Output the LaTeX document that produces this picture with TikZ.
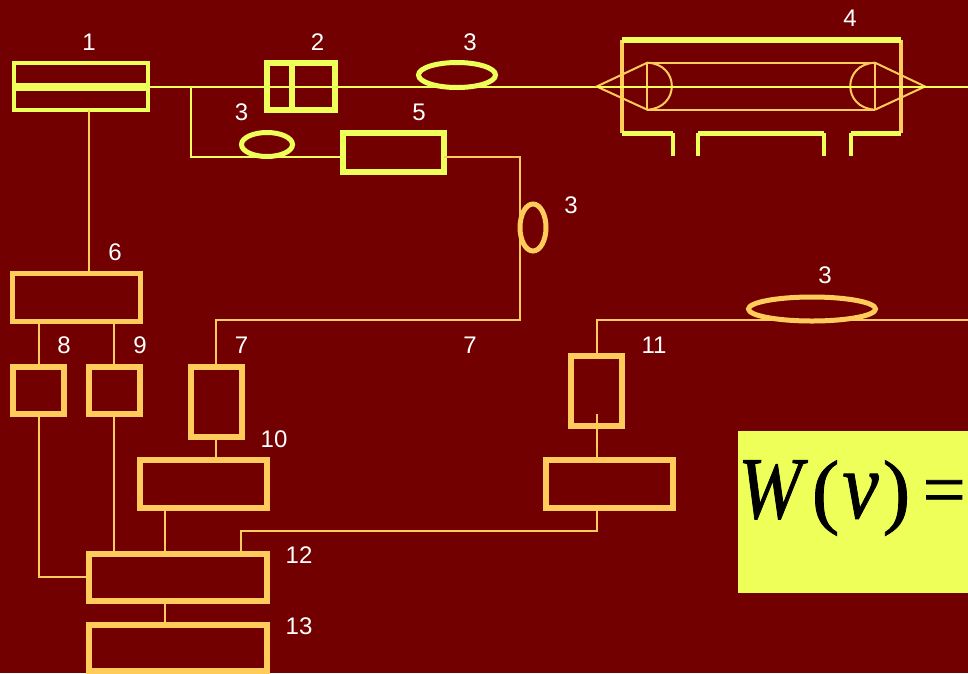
\documentclass[tikz,border=0pt]{standalone}
\usepackage{graphicx}
\usepackage{fontspec}
\setmainfont{Liberation Sans}
\newfontfamily\timesf[FakeBold=1]{Liberation Serif}
\usetikzlibrary{shapes.geometric}
\definecolor{bgred}{HTML}{720000}
\definecolor{ylw}{HTML}{EEFF5A}
\definecolor{org}{HTML}{FFCC5C}
\tikzset{
  x=1pt,y=-1pt,
  wire/.style={line width=2pt},
  ywire/.style={wire,draw=ylw},
  owire/.style={wire,draw=org},
  blockbase/.style={rectangle,inner sep=0pt,outer sep=0pt,fill=none},
  yblock/.style={blockbase,draw=ylw,line width=6pt},
  oblock/.style={blockbase,draw=org,line width=6pt},
  coil/.style={ellipse,inner sep=0pt,outer sep=0pt,line width=5pt},
  num/.style={text=white,font=\fontsize{24}{24}\selectfont,inner sep=0pt},
  thin4/.style={draw=org,line width=2pt},
  wall/.style={draw=org,line width=4pt},
  yrim/.style={draw=ylw,line width=5.5pt},
  ystub/.style={draw=ylw,line width=4pt}
}
\begin{document}
\begin{tikzpicture}
\useasboundingbox (0,0) rectangle (968,673);
\fill[bgred] (0,0) rectangle (968,673);
\clip (0,0) rectangle (968,673);

% guide coordinates
\coordinate (x38) at (38.5,0);
\coordinate (x89) at (89,0);
\coordinate (x114) at (114,0);
\coordinate (x165) at (165,0);
\coordinate (x190) at (190.5,0);
\coordinate (x216) at (216,0);
\coordinate (x241) at (241,0);
\coordinate (x520) at (520,0);
\coordinate (x596) at (596.5,0);
\coordinate (y86) at (0,86.5);
\coordinate (y156) at (0,156.5);
\coordinate (y320) at (0,320);
\coordinate (y531) at (0,531);
\coordinate (y577) at (0,577);
\coordinate (y414) at (0,414);
\coordinate (rightedge) at (968,0);
\coordinate (tipL) at (596.7,86.5);
\coordinate (tipR) at (925,86.5);

% blocks
\node[blockbase,draw=ylw,line width=4pt,minimum width=134.5pt,minimum height=47pt] (b1) at (80.75,86.5) {};
\node[yblock,minimum width=68pt,minimum height=47pt] (b2) at (301,86.5) {};
\node[yblock,minimum width=101pt,minimum height=39pt] (b5) at (393.5,152.5) {};
\node[oblock,line width=5pt,minimum width=128pt,minimum height=48pt] (b6) at (76.5,297.5) {};
\node[oblock,minimum width=50.7pt,minimum height=47pt] (b8) at (38.65,390.5) {};
\node[oblock,minimum width=51pt,minimum height=47pt] (b9) at (114.5,390.5) {};
\node[oblock,minimum width=51pt,minimum height=69.7pt] (b7) at (216,402.2) {};
\node[oblock,minimum width=127pt,minimum height=47.4pt] (b10) at (203.5,484) {};
\node[oblock,minimum width=178pt,minimum height=46.7pt] (b12) at (178,577.7) {};
\node[oblock,minimum width=178pt,minimum height=46.3pt] (b13) at (178,647.9) {};
\node[oblock,minimum width=50.4pt,minimum height=70pt] (b11) at (596.5,390.7) {};
\node[oblock,minimum width=127pt,minimum height=47.4pt] (b14) at (609.2,484) {};

% coils
\node[coil,draw=ylw,minimum width=77pt,minimum height=25pt] (c1) at (457,75) {};
\node[coil,draw=ylw,minimum width=51pt,minimum height=24pt] (c2) at (267,144.5) {};
\node[coil,draw=org,minimum width=26pt,minimum height=47pt] (c3) at (533,227.5) {};
\node[coil,draw=org,minimum width=127pt,minimum height=24pt] (c4) at (812,309) {};

% connectors
\draw[ywire] (b1.east |- y86) -- (rightedge |- y86);
\draw[ywire] (x190 |- y86) -- (x190 |- y156) -- (b5.west |- y156);
\draw[owire] (b5.east |- y156) -- (x520 |- y156) -- (x520 |- y320) -- (x216 |- y320) -- (b7.north);
\draw[owire] (x89 |- b1.south) -- (x89 |- b6.north);
\draw[owire] (x38 |- b6.south) -- (x38 |- b8.north);
\draw[owire] (x114 |- b6.south) -- (x114 |- b9.north);
\draw[owire] (x38 |- b8.south) -- (x38 |- y577) -- (b12.west |- y577);
\draw[owire] (x114 |- b9.south) -- (x114 |- b12.north);
\draw[owire] (x216 |- b7.south) -- (x216 |- b10.north);
\draw[owire] (x165 |- b10.south) -- (x165 |- b12.north);
\draw[owire] (x165 |- b12.south) -- (x165 |- b13.north);
\draw[owire] (x241 |- b12.north) -- (x241 |- y531) -- (x596 |- y531) -- (x596 |- b14.south);
\draw[owire] (x596 |- y414) -- (x596 |- b14.north);
\draw[owire] (rightedge |- y320) -- (x596 |- y320) -- (x596 |- b11.north);

% dividers in blocks 1 and 2
\draw[draw=ylw,line width=8pt] (b1.west |- y86) -- (b1.east |- y86);
\coordinate (x292) at (292,0);
\draw[draw=ylw,line width=6pt] (x292 |- b2.north) -- (x292 |- b2.south);

% laser tube 4
\coordinate (WL) at (622,39.7);
\coordinate (WR) at (900.5,39.7);
\coordinate (BL) at (622,133.3);
\coordinate (BR) at (900.5,133.3);
\coordinate (a1) at (647.3,62.7);
\coordinate (a2) at (647.3,109.7);
\coordinate (a3) at (875,62.7);
\coordinate (a4) at (875,109.7);
\draw[wall] (WL) -- (BL);
\draw[wall] (WR) -- (BR);
\draw[thin4] (a1) -- (a3) (a2) -- (a4) (a1) -- (a2) (a3) -- (a4);
\draw[thin4] (a1) -- (tipL) -- (a2);
\draw[thin4] (a3) -- (tipR) -- (a4);
\draw[thin4] (a1) .. controls (680,64) and (680,108) .. (a2);
\draw[thin4] (a3) .. controls (842,64) and (842,108) .. (a4);
\draw[ywire] (tipL) -- (rightedge |- tipL);
\draw[draw=ylw,line width=6pt] (WL) -- (WR);
\coordinate (s1) at (672.7,156);
\coordinate (s2) at (697.7,156);
\coordinate (s3) at (824.3,156);
\coordinate (s4) at (850.7,156);
\draw[yrim] (BL) -- (s1 |- BL);
\draw[ystub] (s1 |- BL) -- (s1);
\draw[yrim] (s2 |- BL) -- (s3 |- BL);
\draw[ystub] (s2 |- BL) -- (s2);
\draw[ystub] (s3 |- BL) -- (s3);
\draw[yrim] (s4 |- BL) -- (BR);
\draw[ystub] (s4 |- BL) -- (s4);

% formula panel
\node[rectangle,fill=ylw,inner sep=0pt,outer sep=0pt,minimum width=230pt,minimum height=161.7pt] (panel) at (853,511.85) {};
\node[anchor=base west,inner sep=0pt,text=black,font=\timesf\fontsize{83}{83}\selectfont] (formula) at (738,518) {\scalebox{0.87}[1]{\fontsize{88}{88}\selectfont\textit{W}}\kern4pt(\kern3pt\scalebox{0.85}[1]{\fontsize{96}{96}\selectfont\textit{ν}}\kern4pt)\kern12.5pt\raisebox{3pt}{\fontsize{76}{76}\selectfont=}};

% numbers
\node[num] (n1) at (89,42) {1};
\node[num] (n2) at (317.5,42) {2};
\node[num] (n3a) at (470,42) {3};
\node[num] (n4) at (850,18) {4};
\node[num] (n3b) at (241.5,112) {3};
\node[num] (n5) at (419,112) {5};
\node[num] (n3c) at (571,205) {3};
\node[num] (n6) at (115,252) {6};
\node[num] (n3d) at (825,275) {3};
\node[num] (n8) at (64,345) {8};
\node[num] (n9) at (140,345) {9};
\node[num] (n7a) at (241.5,345) {7};
\node[num] (n7b) at (470,345) {7};
\node[num] (n11) at (654,345) {11};
\node[num] (n10) at (274,439) {10};
\node[num] (n12) at (299,555) {12};
\node[num] (n13) at (299,626) {13};
\end{tikzpicture}
\end{document}
